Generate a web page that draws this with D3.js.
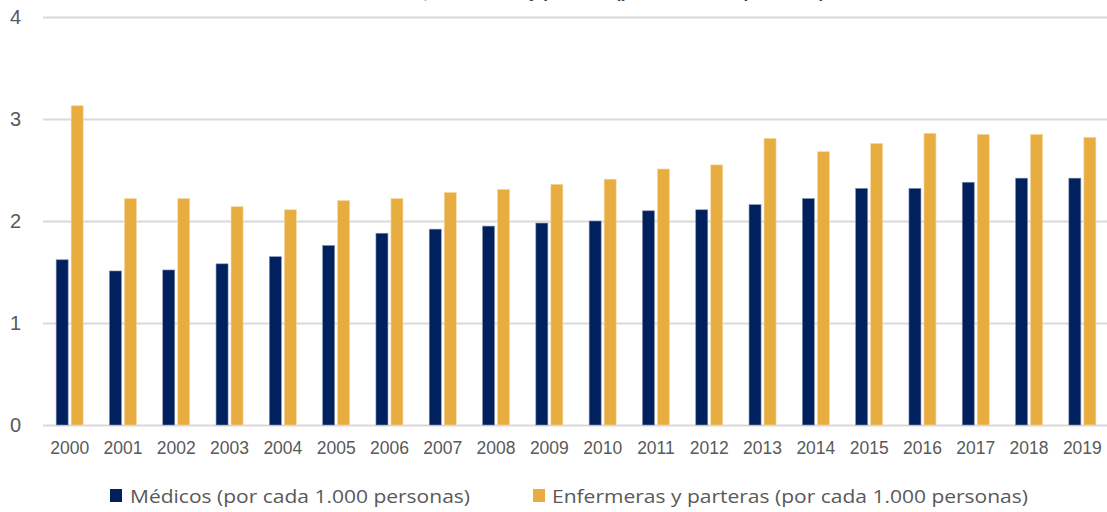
<!DOCTYPE html>
<html><head><meta charset="utf-8">
<script src="https://cdn.jsdelivr.net/npm/d3@7"></script>
<style>html,body{margin:0;padding:0;background:#fff;overflow:hidden}</style>
</head><body>
<svg id="c" width="1107" height="512"></svg>
<script>
const years = ["2000","2001","2002","2003","2004","2005","2006","2007","2008","2009","2010","2011","2012","2013","2014","2015","2016","2017","2018","2019"];
const medicos = [1.62,1.51,1.52,1.58,1.65,1.76,1.88,1.92,1.95,1.98,2.00,2.10,2.11,2.16,2.22,2.32,2.32,2.38,2.42,2.42];
const enfermeras = [3.13,2.22,2.22,2.14,2.11,2.20,2.22,2.28,2.31,2.36,2.41,2.51,2.55,2.81,2.68,2.76,2.86,2.85,2.85,2.82];
const yTicks = [0,1,2,3,4];
const seriesNames = ["Médicos (por cada 1.000 personas)","Enfermeras y parteras (por cada 1.000 personas)"];
const colors = ["#00215E","#E8AD40"];

const svg = d3.select("#c");
const x = d3.scaleBand().domain(years).range([43,1109]);
const y = d3.scaleLinear().domain([0,4]).range([425,17]);

// title (mostly clipped at top, as in the reference)
svg.append("text").attr("x",590).attr("y",-2).attr("text-anchor","middle")
  .attr("font-family","Liberation Sans, Arial, sans-serif").attr("font-weight","bold")
  .attr("font-size",17).attr("fill","#404040")
  .text("Médicos, enfermeras y parteras (por cada 1.000 personas)");

// gridlines
const yAxis = d3.axisLeft(y).tickValues(yTicks).tickSize(-(1107-43)).tickFormat(d3.format("d"));
const gy = svg.append("g").attr("transform","translate(43,0)").call(yAxis);
gy.select(".domain").remove();
gy.selectAll(".tick line").attr("stroke","#d9d9d9").attr("stroke-width",2);
gy.selectAll(".tick text").attr("x",-22).attr("fill","#595959")
  .attr("font-family","Liberation Sans, Arial, sans-serif").attr("font-size",20);

// bars
const bw = 12;
const g = svg.append("g");
g.selectAll("rect.m").data(years).join("rect").attr("class","m")
  .attr("x",d=>x(d)+x.bandwidth()/2-13.5).attr("width",bw)
  .attr("y",(d,i)=>y(medicos[i])).attr("height",(d,i)=>y(0)-y(medicos[i]))
  .attr("fill",colors[0]).attr("stroke","#8090b0").attr("stroke-width",0.6);
g.selectAll("rect.e").data(years).join("rect").attr("class","e")
  .attr("x",d=>x(d)+x.bandwidth()/2+1.5).attr("width",bw)
  .attr("y",(d,i)=>y(enfermeras[i])).attr("height",(d,i)=>y(0)-y(enfermeras[i]))
  .attr("fill",colors[1]).attr("stroke","#f5d9a0").attr("stroke-width",0.6);

// x axis labels
const xAxis = d3.axisBottom(x).tickSize(0).tickPadding(0);
const gx = svg.append("g").attr("transform","translate(0,425)").call(xAxis);
gx.select(".domain").remove();
gx.selectAll(".tick text").attr("y",17).attr("fill","#595959")
  .attr("font-family","Liberation Sans, Arial, sans-serif").attr("font-size",17.5);

// legend
const leg = [{x:110,tx:130,tw:340},{x:533,tx:552,tw:476}];
leg.forEach((l,i)=>{
  svg.append("rect").attr("x",l.x).attr("y",489).attr("width",12).attr("height",13).attr("fill",colors[i]);
  svg.append("text").attr("x",l.tx).attr("y",503).attr("fill","#595959")
    .attr("font-family","Open Sans, sans-serif").attr("font-size",18)
    .attr("textLength",l.tw).attr("lengthAdjust","spacingAndGlyphs")
    .text(seriesNames[i]);
});
</script>
</body></html>
